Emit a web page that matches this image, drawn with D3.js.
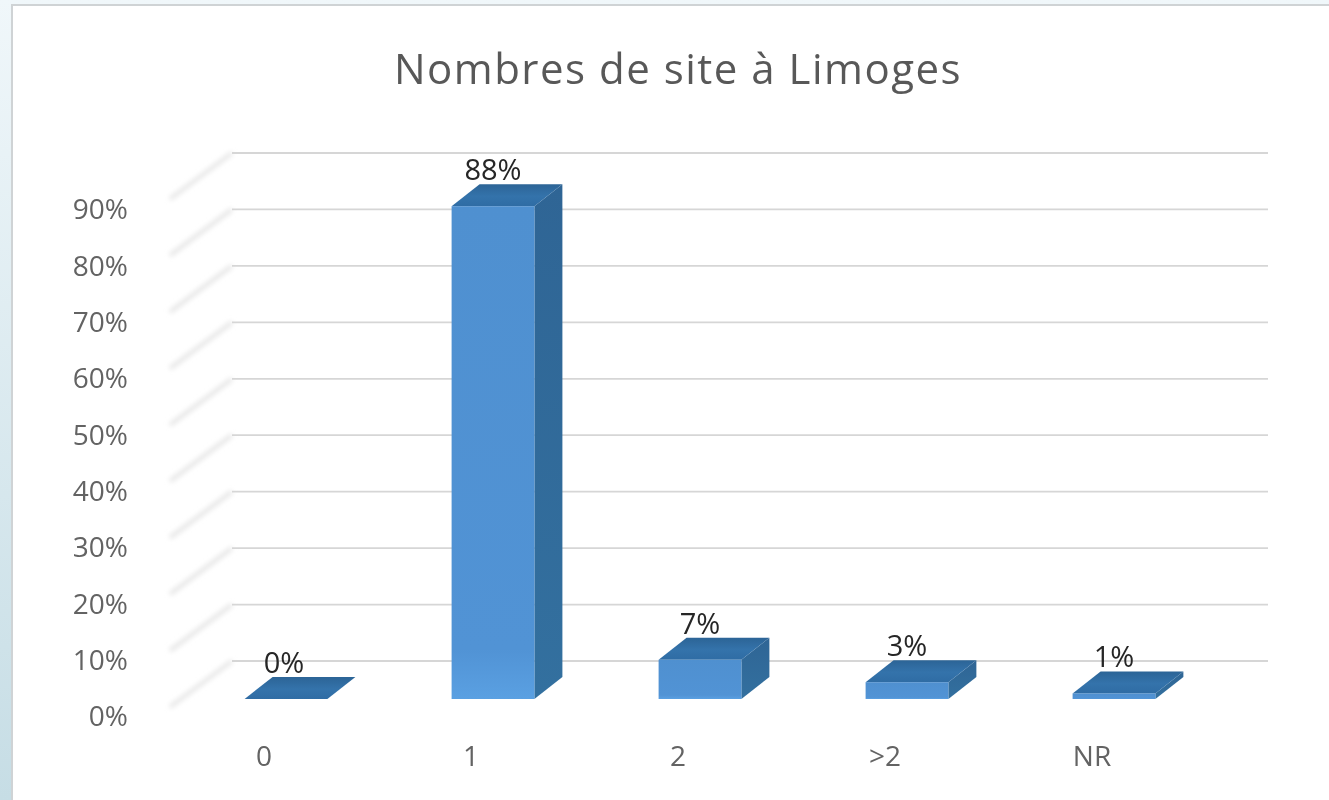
<!DOCTYPE html>
<html>
<head>
<meta charset="utf-8">
<script src="https://cdn.jsdelivr.net/npm/d3@7"></script>
<style>
  html, body { margin: 0; padding: 0; background: #fff; }
  svg { display: block; }
  text { font-family: "Open Sans", sans-serif; }
</style>
</head>
<body>
<div id="chart"></div>
<script>
var chartTitle = "Nombres de site à Limoges";
var categories = ["0", "1", "2", ">2", "NR"];
var values = [0, 88, 7, 3, 1];
var axisTicks = [0, 10, 20, 30, 40, 50, 60, 70, 80, 90];
var gridTicks = [10, 20, 30, 40, 50, 60, 70, 80, 90, 100];

var width = 1329, height = 800;
// 3d offset of the bars
var depthX = 28, depthY = 22;

var svg = d3.select("#chart").append("svg")
  .attr("width", width)
  .attr("height", height);

var defs = svg.append("defs");

// helper for the small gradients
function addGradient(id, x2, y2, stops) {
  var g = defs.append("linearGradient")
    .attr("id", id)
    .attr("x1", 0).attr("y1", 0).attr("x2", x2).attr("y2", y2);
  stops.forEach(function (s) {
    g.append("stop").attr("offset", s[0]).attr("stop-color", s[1]);
  });
}

// pale blue window background on the left
addGradient("bgGrad", 0, 1, [["0%", "#f0f7fa"], ["100%", "#c6dde5"]]);
addGradient("frontGrad", 0, 1, [["0%", "#4f90d0"], ["90%", "#5193d5"], ["100%", "#5aa0e2"]]);
addGradient("topGrad", 0, 1, [["0%", "#2c6496"], ["55%", "#3473ab"], ["100%", "#2f6ca4"]]);
addGradient("sideGrad", 0, 1, [["0%", "#2f6595"], ["100%", "#33709f"]]);

var blur = defs.append("filter").attr("id", "soft");
blur.append("feGaussianBlur").attr("stdDeviation", 2.4);

var textBlur = defs.append("filter").attr("id", "softText");
textBlur.append("feGaussianBlur").attr("stdDeviation", 0.4);

svg.append("rect")
  .attr("width", width).attr("height", height)
  .attr("fill", "url(#bgGrad)");

svg.append("rect")
  .attr("x", 12).attr("y", 5)
  .attr("width", width).attr("height", height)
  .attr("fill", "#fff")
  .attr("stroke", "#cfd3d5")
  .attr("stroke-width", 2);

// value scales: the axis labels and gridlines sit lower than the bar floor in the picture
var yAxisScale = d3.scaleLinear().domain([0, 90]).range([717, 210]);
var yGrid = d3.scaleLinear().domain([10, 100]).range([661, 153]);
var yBar = d3.scaleLinear().domain([0, 100]).range([699, 139]);

var x = d3.scaleBand()
  .domain(categories)
  .range([182.5, 1217.5])
  .paddingInner(0.6)
  .paddingOuter(0.3);

// faint side wall lines
svg.append("g")
  .attr("filter", "url(#soft)")
  .selectAll("line")
  .data(gridTicks)
  .enter()
  .append("line")
    .attr("x1", 232)
    .attr("x2", 170)
    .attr("y1", function (d) { return yGrid(d); })
    .attr("y2", function (d) { return yGrid(d) + 46; })
    .attr("stroke", "#e4e4e4")
    .attr("stroke-width", 4);

// gridlines
svg.append("g")
  .selectAll("line")
  .data(gridTicks)
  .enter()
  .append("line")
    .attr("x1", 232)
    .attr("x2", 1268)
    .attr("y1", function (d) { return yGrid(d); })
    .attr("y2", function (d) { return yGrid(d); })
    .attr("stroke", "#d6d6d6")
    .attr("stroke-width", 1.8);

// Y axis
var yAxis = svg.append("g")
  .attr("transform", "translate(128,0)")
  .call(d3.axisLeft(yAxisScale)
    .tickValues(axisTicks)
    .tickSize(0)
    .tickPadding(0)
    .tickFormat(function (d) { return d + "%"; }));
yAxis.select(".domain").remove();
yAxis.selectAll("text")
  .style("font-size", "28px")
  .attr("fill", "#636363")
  .attr("filter", "url(#softText)");

// X axis, labels are shifted left of the bars in the picture
var xAxis = svg.append("g")
  .attr("transform", "translate(-22,746)")
  .call(d3.axisBottom(x).tickSize(0).tickPadding(0));
xAxis.select(".domain").remove();
xAxis.selectAll("text")
  .style("font-size", "28px")
  .attr("fill", "#636363")
  .attr("filter", "url(#softText)");

// Bars
function poly(points) {
  return d3.line()(points) + "Z";
}

var bars = svg.append("g")
  .selectAll("g")
  .data(values)
  .enter()
  .append("g");

// side
bars.append("path")
  .attr("fill", "url(#sideGrad)")
  .attr("d", function (d, i) {
    var r = x(categories[i]) + x.bandwidth(), t = yBar(d), b = yBar(0);
    return poly([[r, t], [r + depthX, t - depthY], [r + depthX, b - depthY], [r, b]]);
  });

// top
bars.append("path")
  .attr("fill", "url(#topGrad)")
  .attr("d", function (d, i) {
    var l = x(categories[i]), r = l + x.bandwidth(), t = yBar(d);
    return poly([[l, t], [r, t], [r + depthX, t - depthY], [l + depthX, t - depthY]]);
  });

// front
bars.append("rect")
  .attr("x", function (d, i) { return x(categories[i]); })
  .attr("y", function (d) { return yBar(d); })
  .attr("width", x.bandwidth())
  .attr("height", function (d) { return yBar(0) - yBar(d); })
  .attr("fill", "url(#frontGrad)");

// Data labels
svg.append("g")
  .selectAll("text")
  .data(values)
  .enter()
  .append("text")
    .attr("x", function (d, i) { return x(categories[i]) + x.bandwidth() / 2 - (i == 0 ? 2 : 0); })
    .attr("y", function (d) { return yBar(d) - depthY - 4; })
    .attr("text-anchor", "middle")
    .style("font-size", "29px")
    .attr("fill", "#262626")
    .attr("filter", "url(#softText)")
    .text(function (d) { return d + "%"; });

// Title
svg.append("text")
  .attr("x", 678)
  .attr("y", 84)
  .attr("text-anchor", "middle")
  .style("font-size", "42px")
  .style("letter-spacing", "1.5px")
  .attr("fill", "#595959")
  .attr("filter", "url(#softText)")
  .text(chartTitle);
</script>
</body>
</html>
